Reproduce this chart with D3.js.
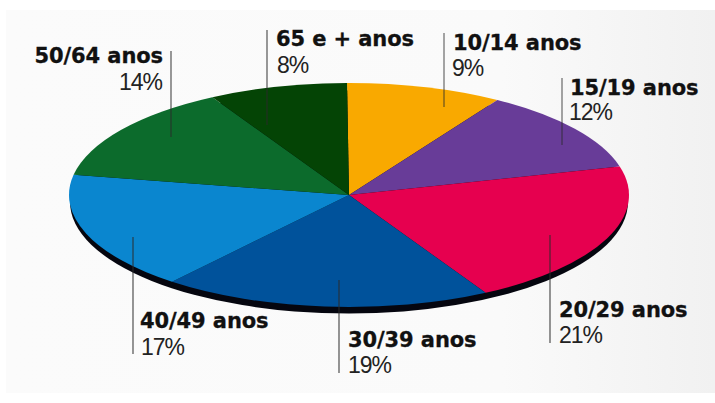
<!DOCTYPE html>
<html>
<head>
<meta charset="utf-8">
<script src="https://cdnjs.cloudflare.com/ajax/libs/d3/7.8.5/d3.min.js"></script>
<style>
html,body{margin:0;padding:0;background:#fff}
svg{display:block}
.age{font-family:"DejaVu Sans",sans-serif;font-weight:700;font-size:21px;fill:#111;stroke:#111;stroke-width:0.3px;letter-spacing:-0.1px}
.pct{font-family:"Liberation Sans",Arial,sans-serif;font-size:23px;letter-spacing:-1px;fill:#222}
</style>
</head>
<body>
<svg id="chart" width="715" height="403"></svg>
<script>
// Age groups and their share of the total, clockwise from twelve o'clock
const ageGroups = ["10/14 anos","15/19 anos","20/29 anos","30/39 anos","40/49 anos","50/64 anos","65 e + anos"];
const shares = [9,12,21,19,17,14,8];
const sliceColors = ["#f9a900","#683c98","#e6004f","#00529b","#0a86cf","#0c6b2c","#044405"];

// Callout geometry for each group: leader line and text anchor
const leaderX = [444,562,550,339,133,171,267];
const leaderY = [[33,107],[78,145],[235,343],[280,373],[237,354],[51,137],[30,125]];
const leaderWidth = [1.2,1.2,1.8,1.8,1.8,1.2,1.2];
const leaderOpacity = [0.7,0.7,0.55,0.55,0.55,0.8,0.8];
const nameAt = [[453,50],[570,95],[559,317],[348,347],[140,328],[163,63],[276,46]];
const pctAt = [[452,76],[569,120],[559,343],[348,373],[141,355],[162,90],[277,73]];
const rightAligned = [false,false,false,false,false,true,false];

const cx = 349, cy = 195, rx = 280, tilt = 0.4, depth = 7;
const turn = -0.007;

const svg = d3.select("#chart");

// Pale backdrop that greys slightly towards the right edge
const grad = svg.append("defs").append("linearGradient").attr("id","wash");
grad.append("stop").attr("offset","0%").attr("stop-color","#fbfbfb");
grad.append("stop").attr("offset","70%").attr("stop-color","#fafafa");
grad.append("stop").attr("offset","100%").attr("stop-color","#f1f1f1");
svg.append("rect").attr("x",6).attr("y",10).attr("width",709).attr("height",383).attr("fill","url(#wash)");

const pie = d3.pie().sort(null).value(d => d).startAngle(turn).endAngle(2 * Math.PI + turn)(shares);
const arc = d3.arc().innerRadius(0).outerRadius(rx);

// Dark rim under the disc
svg.append("g")
  .attr("transform",`translate(${cx},${cy + depth}) scale(1,${tilt})`)
  .append("path")
  .attr("d", d3.arc().innerRadius(0).outerRadius(rx - 1).startAngle(0).endAngle(2 * Math.PI)())
  .attr("fill","#05060f");

// Tilted disc
svg.append("g")
  .attr("transform",`translate(${cx},${cy}) scale(1,${tilt})`)
  .selectAll("path")
  .data(pie)
  .join("path")
  .attr("d", arc)
  .attr("fill", (d,i) => sliceColors[i]);

// Leader lines run over the disc and darken what they cross
svg.append("g")
  .selectAll("line")
  .data(ageGroups)
  .join("line")
  .attr("x1",(d,i)=>leaderX[i]).attr("x2",(d,i)=>leaderX[i])
  .attr("y1",(d,i)=>leaderY[i][0]).attr("y2",(d,i)=>leaderY[i][1])
  .attr("stroke","#2b2b2b")
  .attr("stroke-opacity",(d,i)=>leaderOpacity[i])
  .attr("stroke-width",(d,i)=>leaderWidth[i]);

const labels = svg.append("g").selectAll("g").data(ageGroups).join("g");
labels.append("text").attr("class","age")
  .attr("x",(d,i)=>nameAt[i][0]).attr("y",(d,i)=>nameAt[i][1])
  .attr("text-anchor",(d,i)=>rightAligned[i]?"end":"start")
  .text(d=>d);
labels.append("text").attr("class","pct")
  .attr("x",(d,i)=>pctAt[i][0]).attr("y",(d,i)=>pctAt[i][1])
  .attr("text-anchor",(d,i)=>rightAligned[i]?"end":"start")
  .text((d,i)=>shares[i]+"%");
</script>
</body>
</html>
